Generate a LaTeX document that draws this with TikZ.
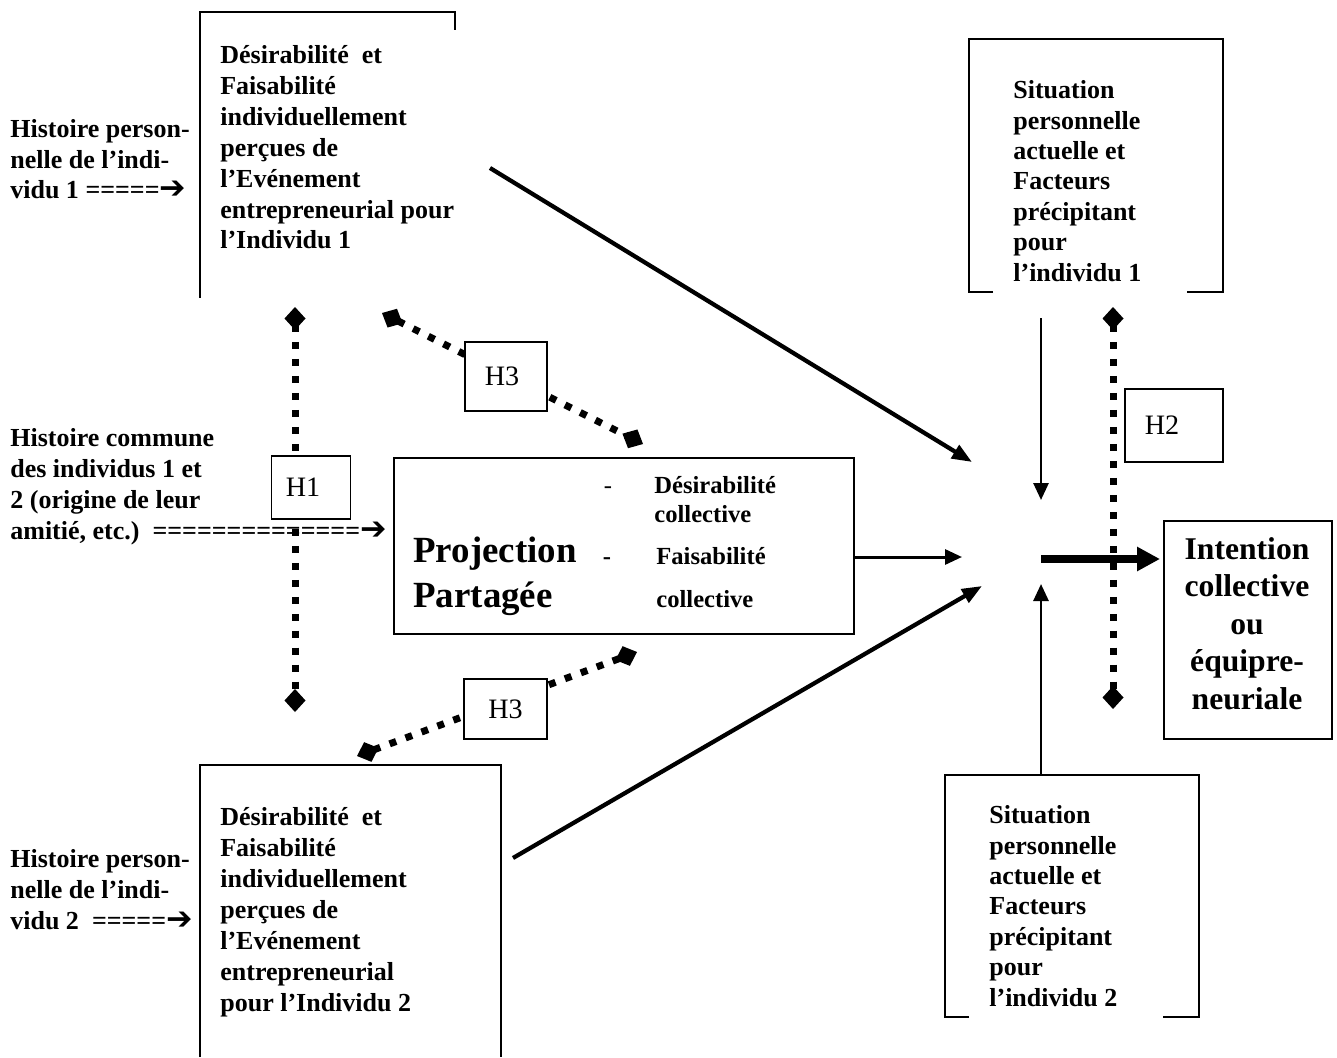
\documentclass[tikz,border=0pt]{standalone}
\usepackage{fontspec}
\setmainfont{Liberation Serif}
\newfontfamily\dejavu{DejaVu Sans}
\usetikzlibrary{arrows.meta}
\newcommand\myarr{{\dejavu\fontsize{18pt}{18pt}\selectfont ➔}}
\begin{document}
\begin{tikzpicture}[x=0.02cm,y=-0.02cm,
  body/.style={font=\fontsize{14.8pt}{17.6pt}\selectfont\bfseries, align=left, inner sep=0pt, anchor=base west},
  sit/.style={font=\fontsize{14.8pt}{17.3pt}\selectfont\bfseries, align=left, inner sep=0pt, anchor=base west},
  outline/.style={line width=0.04cm},
  hbox/.style={draw, line width=0.03cm, fill=white, inner sep=0pt},
  hlab/.style={font=\fontsize{16pt}{19pt}\selectfont},
  dotln/.style={line width=0.14cm, dash pattern=on 0.14cm off 0.2cm,
     {Diamond[length=0.46cm,width=0.42cm]}-{Diamond[length=0.46cm,width=0.42cm]}},
  arr/.style={line width=0.085cm, -{Triangle[length=0.4cm,width=0.3cm]}},
  varr/.style={line width=0.055cm, -{Triangle[length=0.34cm,width=0.3cm]}},
  thickarr/.style={line width=0.15cm, -{Triangle[length=0.46cm,width=0.46cm]}},
]
\useasboundingbox (0,0) rectangle (1337,1057);

% ---------- texts (anchor = baseline of the last line) ----------
\node[body] (L1) at (10,199) {Histoire person-\\nelle de l’indi-\\vidu 1 =====\myarr};
\node[body] (TA) at (220,249) {Désirabilité\ \ et\\Faisabilité\\individuellement\\perçues de\\l’Evénement\\entrepreneurial pour\\l’Individu 1};
\node[body] (LC) at (10,539) {Histoire commune\\des individus 1 et\\2 (origine de leur\\amitié, etc.)\ \ ==============\myarr};
\node[body] (L2) at (10,929) {Histoire person-\\nelle de l’indi-\\vidu 2\ \ =====\myarr};
\node[body] (TD) at (220,1011) {Désirabilité\ \ et\\Faisabilité\\individuellement\\perçues de\\l’Evénement\\entrepreneurial\\pour l’Individu 2};
\node[sit] (TB) at (1013,281) {Situation\\personnelle\\actuelle et\\Facteurs\\précipitant\\pour\\l’individu 1};
\node[sit] (TC) at (989,1006) {Situation\\personnelle\\actuelle et\\Facteurs\\précipitant\\pour\\l’individu 2};

% ---------- box outlines ----------
\draw[outline] (455,30) -- (455,12) -- (200,12) -- (200,298);
\draw[outline] (993,292) -- (969,292) -- (969,39) -- (1223,39) -- (1223,292) -- (1187,292);
\draw[outline] (969,1017) -- (945,1017) -- (945,775) -- (1199,775) -- (1199,1017) -- (1163,1017);
\draw[outline] (200,1057) -- (200,765) -- (501,765) -- (501,1057);

% Projection box
\node[draw, outline, inner sep=0pt, minimum width=9.2cm, minimum height=3.52cm, anchor=north west] (E) at (393,457) {};
\node[font=\fontsize{21pt}{25.5pt}\selectfont\bfseries, align=left, inner sep=0pt, anchor=base west] (PP) at (413,607) {Projection\\Partagée};
\node[font=\fontsize{14pt}{16pt}\selectfont, inner sep=0pt, anchor=base] (m1) at (608,493) {-};
\node[font=\fontsize{14pt}{16.4pt}\selectfont\bfseries, align=left, inner sep=0pt, anchor=base west] (DC) at (654,522) {Désirabilité\\collective};
\node[font=\fontsize{14pt}{16pt}\selectfont\bfseries, inner sep=0pt, anchor=base] (m2) at (607,564) {-};
\node[font=\fontsize{14pt}{16pt}\selectfont\bfseries, inner sep=0pt, anchor=base west] (FC) at (656,564) {Faisabilité};
\node[font=\fontsize{14pt}{16pt}\selectfont\bfseries, inner sep=0pt, anchor=base west] (CC) at (656,607) {collective};

% Intention box
\node[draw, outline, inner sep=0pt, minimum width=3.36cm, minimum height=4.36cm, anchor=north west] (F) at (1163,520) {};
\node[font=\fontsize{18pt}{21.3pt}\selectfont\bfseries, align=center, inner sep=0pt, anchor=base] (FT) at (1247,709) {Intention\\collective\\ou\\équipre-\\neuriale};

% ---------- dotted hypothesis links ----------
\draw[dotln] (295,307) -- (295,712);
\draw[dotln] (1113,307) -- (1113,709);
\draw[dotln] (382,313) -- (643,444);
\draw[dotln] (357,756) -- (637,652);

% H boxes
\node[hbox, minimum width=1.58cm, minimum height=1.26cm, label={[hlab, xshift=-0.16cm]center:H1}] (H1) at (311,487.5) {};
\node[hbox, minimum width=1.64cm, minimum height=1.38cm, label={[hlab, xshift=-0.08cm]center:H3}] (H3a) at (506,376.5) {};
\node[hbox, minimum width=1.66cm, minimum height=1.2cm, label={[hlab]center:H3}] (H3b) at (505.5,709) {};
\node[hbox, minimum width=1.96cm, minimum height=1.46cm, label={[hlab, xshift=-0.24cm]center:H2}] (H2) at (1174,425.5) {};

% ---------- arrows ----------
\coordinate (a1) at (490,168);
\coordinate (hubA) at (972,462);
\coordinate (d1) at (513,858);
\coordinate (hubD) at (982,586);
\coordinate (hubE) at (962,557);
\coordinate (b1) at (1041,318);
\coordinate (hubB) at (1041,500);
\coordinate (hubC) at (1041,584);
\coordinate (hubO) at (1041,559);
\coordinate (fin) at (1160,559);

\draw[arr] (a1) -- (hubA);
\draw[arr] (d1) -- (hubD);
\draw[varr, line width=0.06cm] (E.east |- hubE) -- (hubE);
\draw[varr] (b1) -- (hubB);
\draw[varr] (1041,775) -- (hubC);
\draw[thickarr] (hubO) -- (fin);
\end{tikzpicture}
\end{document}
